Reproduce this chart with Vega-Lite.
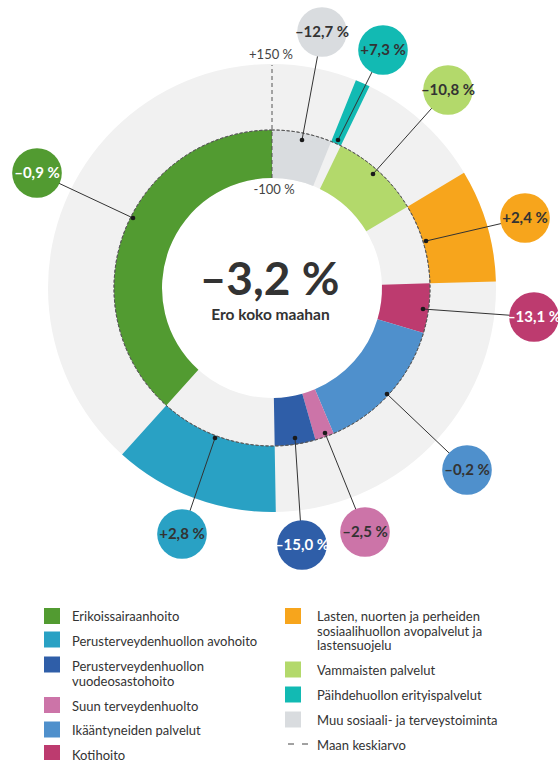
{
  "$schema": "https://vega.github.io/schema/vega-lite/v6.json",
  "width": 558,
  "height": 760,
  "padding": 0,
  "autosize": {"type": "none"},
  "config": {"view": {"stroke": null}, "font": "Lato", "text": {"font": "Lato"}},
  "datasets": {
    "sectors": [
      {"name": "Muu sosiaali- ja terveystoiminta", "share": 6.11, "lo": -100, "hi": 0, "ord": 1, "label": "–12,7 %", "dotX": 30, "dotY": 148, "bubX": 50, "bubY": 256},
      {"name": "Päihdehuollon erityispalvelut", "share": 1.06, "lo": 0, "hi": 150, "ord": 2, "label": "+7,3 %", "dotX": 66, "dotY": 148, "bubX": 111, "bubY": 238},
      {"name": "Vammaisten palvelut", "share": 9.22, "lo": -100, "hi": 0, "ord": 3, "label": "–10,8 %", "dotX": 101, "dotY": 114, "bubX": 176, "bubY": 198},
      {"name": "Lasten, nuorten ja perheiden sosiaalihuollon avopalvelut ja lastensuojelu", "share": 8.14, "lo": 0, "hi": 150, "ord": 4, "label": "+2,4 %", "dotX": 154, "dotY": 47, "bubX": 253, "bubY": 70},
      {"name": "Kotihoito", "share": 5.06, "lo": -100, "hi": 0, "ord": 5, "label": "–13,1 %", "dotX": 151, "dotY": -21, "bubX": 262, "bubY": -29},
      {"name": "Ikääntyneiden palvelut", "share": 14.03, "lo": -100, "hi": 0, "ord": 6, "label": "–0,2 %", "dotX": 115, "dotY": -106, "bubX": 195, "bubY": -182},
      {"name": "Suun terveydenhuolto", "share": 1.94, "lo": -100, "hi": 0, "ord": 7, "label": "–2,5 %", "dotX": 53, "dotY": -145, "bubX": 93, "bubY": -244},
      {"name": "Perusterveydenhuollon vuodeosastohoito", "share": 4.17, "lo": -100, "hi": 0, "ord": 8, "label": "–15,0 %", "dotX": 23, "dotY": -150, "bubX": 30, "bubY": -257},
      {"name": "Perusterveydenhuollon avohoito", "share": 11.94, "lo": 0, "hi": 150, "ord": 9, "label": "+2,8  %", "dotX": -57, "dotY": -150, "bubX": -90, "bubY": -246},
      {"name": "Erikoissairaanhoito", "share": 38.33, "lo": -100, "hi": 0, "ord": 10, "label": "–0,9 %", "dotX": -139, "dotY": 70, "bubX": -235, "bubY": 115}
    ],
    "legend": [
      {"name": "Erikoissairaanhoito", "label": "Erikoissairaanhoito", "sx": -220, "sy": -328, "tx": -200, "ty": -329},
      {"name": "Perusterveydenhuollon avohoito", "label": "Perusterveydenhuollon avohoito", "sx": -220, "sy": -351.5, "tx": -200, "ty": -354},
      {"name": "Perusterveydenhuollon vuodeosastohoito", "label": "Perusterveydenhuollon\nvuodeosastohoito", "sx": -220, "sy": -376.5, "tx": -200, "ty": -379},
      {"name": "Suun terveydenhuolto", "label": "Suun terveydenhuolto", "sx": -220, "sy": -417, "tx": -200, "ty": -419},
      {"name": "Ikääntyneiden palvelut", "label": "Ikääntyneiden palvelut", "sx": -220, "sy": -441.5, "tx": -200, "ty": -443},
      {"name": "Kotihoito", "label": "Kotihoito", "sx": -220, "sy": -465, "tx": -200, "ty": -468},
      {"name": "Lasten, nuorten ja perheiden sosiaalihuollon avopalvelut ja lastensuojelu", "label": "Lasten, nuorten ja perheiden\nsosiaalihuollon avopalvelut ja\nlastensuojelu", "sx": 21, "sy": -328, "tx": 45, "ty": -329},
      {"name": "Vammaisten palvelut", "label": "Vammaisten palvelut", "sx": 21, "sy": -381.5, "tx": 45, "ty": -383},
      {"name": "Päihdehuollon erityispalvelut", "label": "Päihdehuollon erityispalvelut", "sx": 21, "sy": -406.5, "tx": 45, "ty": -408},
      {"name": "Muu sosiaali- ja terveystoiminta", "label": "Muu sosiaali- ja terveystoiminta", "sx": 21, "sy": -431.5, "tx": 45, "ty": -433},
      {"name": "Maan keskiarvo", "label": "Maan keskiarvo", "dashFrom": 16, "dashTo": 36, "sy": -456, "tx": 45, "ty": -458}
    ]
  },
  "layer": [
    {
      "data": {"values": [{"ring": "background"}]},
      "mark": {"type": "arc", "theta": 0, "theta2": 6.2832, "color": "#f1f1f1"},
      "encoding": {
        "x": {"datum": 0, "type": "quantitative", "scale": {"domain": [-272, 286], "nice": false, "zero": false}, "axis": null},
        "y": {"datum": 0, "type": "quantitative", "scale": {"domain": [-472, 288], "nice": false, "zero": false}, "axis": null},
        "radius": {"datum": 150, "type": "quantitative", "scale": {"type": "linear", "domain": [-100, 0, 150], "range": [110, 158, 224], "zero": false, "nice": false}},
        "radius2": {"datum": -100}
      }
    },
    {
      "data": {"name": "sectors"},
      "transform": [{"stack": "share", "groupby": [], "sort": [{"field": "ord", "order": "ascending"}], "as": ["t0", "t1"]}],
      "mark": {"type": "arc"},
      "encoding": {
        "x": {"datum": 0, "type": "quantitative", "scale": {"domain": [-272, 286], "nice": false, "zero": false}, "axis": null},
        "y": {"datum": 0, "type": "quantitative", "scale": {"domain": [-472, 288], "nice": false, "zero": false}, "axis": null},
        "theta": {"field": "t1", "type": "quantitative", "scale": {"type": "linear", "domain": [0, 100], "nice": false, "zero": false}},
        "theta2": {"field": "t0"},
        "radius": {"field": "hi", "type": "quantitative", "scale": {"type": "linear", "domain": [-100, 0, 150], "range": [110, 158, 224], "zero": false, "nice": false}},
        "radius2": {"field": "lo"},
        "color": {
          "field": "name", "type": "nominal", "legend": null,
          "scale": {
            "domain": ["Muu sosiaali- ja terveystoiminta", "Päihdehuollon erityispalvelut", "Vammaisten palvelut", "Lasten, nuorten ja perheiden sosiaalihuollon avopalvelut ja lastensuojelu", "Kotihoito", "Ikääntyneiden palvelut", "Suun terveydenhuolto", "Perusterveydenhuollon vuodeosastohoito", "Perusterveydenhuollon avohoito", "Erikoissairaanhoito"],
            "range": ["#d9dcdf", "#12bab3", "#b3d96b", "#f7a51c", "#bd3b6f", "#4f90cc", "#cc74a8", "#2f5ea8", "#29a1c4", "#529b31"]
          }
        }
      }
    },
    {
      "data": {"values": [{"line": "Maan keskiarvo"}]},
      "mark": {"type": "arc", "theta": 0, "theta2": 6.2832, "filled": false, "stroke": "#555555", "strokeWidth": 0.9, "strokeDash": [3, 2]},
      "encoding": {
        "x": {"datum": 0, "type": "quantitative", "scale": {"domain": [-272, 286], "nice": false, "zero": false}, "axis": null},
        "y": {"datum": 0, "type": "quantitative", "scale": {"domain": [-472, 288], "nice": false, "zero": false}, "axis": null},
        "radius": {"datum": 0, "type": "quantitative", "scale": {"type": "linear", "domain": [-100, 0, 150], "range": [110, 158, 224], "zero": false, "nice": false}}
      }
    },
    {
      "data": {"values": [{"axis": "radial"}]},
      "mark": {"type": "rule", "color": "#555555", "strokeWidth": 1, "strokeDash": [4, 3]},
      "encoding": {
        "x": {"datum": 0, "type": "quantitative", "scale": {"domain": [-272, 286], "nice": false, "zero": false}, "axis": null},
        "y": {"datum": 110, "type": "quantitative", "scale": {"domain": [-472, 288], "nice": false, "zero": false}, "axis": null},
        "y2": {"datum": 223}
      }
    },
    {
      "data": {"values": [{"t": "+150 %", "x": -1, "y": 233}, {"t": "-100 %", "x": 2, "y": 98}]},
      "mark": {"type": "text", "fontSize": 13, "color": "#444444", "align": "center", "baseline": "middle"},
      "encoding": {
        "x": {"field": "x", "type": "quantitative", "scale": {"domain": [-272, 286], "nice": false, "zero": false}, "axis": null},
        "y": {"field": "y", "type": "quantitative", "scale": {"domain": [-472, 288], "nice": false, "zero": false}, "axis": null},
        "text": {"field": "t"}
      }
    },
    {
      "data": {"name": "sectors"},
      "mark": {"type": "rule", "color": "#333333", "strokeWidth": 1},
      "encoding": {
        "x": {"field": "dotX", "type": "quantitative", "scale": {"domain": [-272, 286], "nice": false, "zero": false}, "axis": null},
        "y": {"field": "dotY", "type": "quantitative", "scale": {"domain": [-472, 288], "nice": false, "zero": false}, "axis": null},
        "x2": {"field": "bubX"},
        "y2": {"field": "bubY"}
      }
    },
    {
      "data": {"name": "sectors"},
      "mark": {"type": "point", "shape": "circle", "filled": true, "size": 22, "color": "#1a1a1a", "opacity": 1},
      "encoding": {
        "x": {"field": "dotX", "type": "quantitative", "scale": {"domain": [-272, 286], "nice": false, "zero": false}, "axis": null},
        "y": {"field": "dotY", "type": "quantitative", "scale": {"domain": [-472, 288], "nice": false, "zero": false}, "axis": null}
      }
    },
    {
      "data": {"name": "sectors"},
      "mark": {"type": "point", "shape": "circle", "filled": true, "size": 2463, "opacity": 1},
      "encoding": {
        "x": {"field": "bubX", "type": "quantitative", "scale": {"domain": [-272, 286], "nice": false, "zero": false}, "axis": null},
        "y": {"field": "bubY", "type": "quantitative", "scale": {"domain": [-472, 288], "nice": false, "zero": false}, "axis": null},
        "color": {"field": "name", "type": "nominal", "legend": null}
      }
    },
    {
      "data": {"name": "sectors"},
      "mark": {"type": "text", "fontSize": 15, "fontWeight": "bold", "align": "center", "baseline": "middle"},
      "encoding": {
        "x": {"field": "bubX", "type": "quantitative", "scale": {"domain": [-272, 286], "nice": false, "zero": false}, "axis": null},
        "y": {"field": "bubY", "type": "quantitative", "scale": {"domain": [-472, 288], "nice": false, "zero": false}, "axis": null},
        "text": {"field": "label"},
        "color": {
          "condition": {"test": "indexof(['Erikoissairaanhoito', 'Kotihoito', 'Perusterveydenhuollon vuodeosastohoito'], datum.name) >= 0", "value": "#ffffff"},
          "value": "#333333"
        }
      }
    },
    {
      "data": {"values": [{"t": "–3,2 %", "x": -2.5, "y": 7}]},
      "mark": {"type": "text", "fontSize": 46, "fontWeight": "bold", "color": "#333333", "align": "center", "baseline": "middle"},
      "encoding": {
        "x": {"field": "x", "type": "quantitative", "scale": {"domain": [-272, 286], "nice": false, "zero": false}, "axis": null},
        "y": {"field": "y", "type": "quantitative", "scale": {"domain": [-472, 288], "nice": false, "zero": false}, "axis": null},
        "text": {"field": "t"}
      }
    },
    {
      "data": {"values": [{"t": "Ero koko maahan", "x": -1.5, "y": -27}]},
      "mark": {"type": "text", "fontSize": 15.5, "fontWeight": "bold", "color": "#333333", "align": "center", "baseline": "middle"},
      "encoding": {
        "x": {"field": "x", "type": "quantitative", "scale": {"domain": [-272, 286], "nice": false, "zero": false}, "axis": null},
        "y": {"field": "y", "type": "quantitative", "scale": {"domain": [-472, 288], "nice": false, "zero": false}, "axis": null},
        "text": {"field": "t"}
      }
    },
    {
      "data": {"name": "legend"},
      "transform": [{"filter": "isValid(datum.sx)"}],
      "mark": {"type": "point", "shape": "square", "filled": true, "size": 256, "opacity": 1},
      "encoding": {
        "x": {"field": "sx", "type": "quantitative", "scale": {"domain": [-272, 286], "nice": false, "zero": false}, "axis": null},
        "y": {"field": "sy", "type": "quantitative", "scale": {"domain": [-472, 288], "nice": false, "zero": false}, "axis": null},
        "color": {"field": "name", "type": "nominal", "legend": null}
      }
    },
    {
      "data": {"name": "legend"},
      "transform": [{"filter": "isValid(datum.dashFrom)"}],
      "mark": {"type": "rule", "color": "#444444", "strokeWidth": 1, "strokeDash": [6, 8]},
      "encoding": {
        "x": {"field": "dashFrom", "type": "quantitative", "scale": {"domain": [-272, 286], "nice": false, "zero": false}, "axis": null},
        "x2": {"field": "dashTo"},
        "y": {"field": "sy", "type": "quantitative", "scale": {"domain": [-472, 288], "nice": false, "zero": false}, "axis": null}
      }
    },
    {
      "data": {"name": "legend"},
      "mark": {"type": "text", "fontSize": 13, "color": "#333333", "align": "left", "baseline": "middle", "lineBreak": "\n", "lineHeight": 14.5},
      "encoding": {
        "x": {"field": "tx", "type": "quantitative", "scale": {"domain": [-272, 286], "nice": false, "zero": false}, "axis": null},
        "y": {"field": "ty", "type": "quantitative", "scale": {"domain": [-472, 288], "nice": false, "zero": false}, "axis": null},
        "text": {"field": "label"}
      }
    }
  ]
}
